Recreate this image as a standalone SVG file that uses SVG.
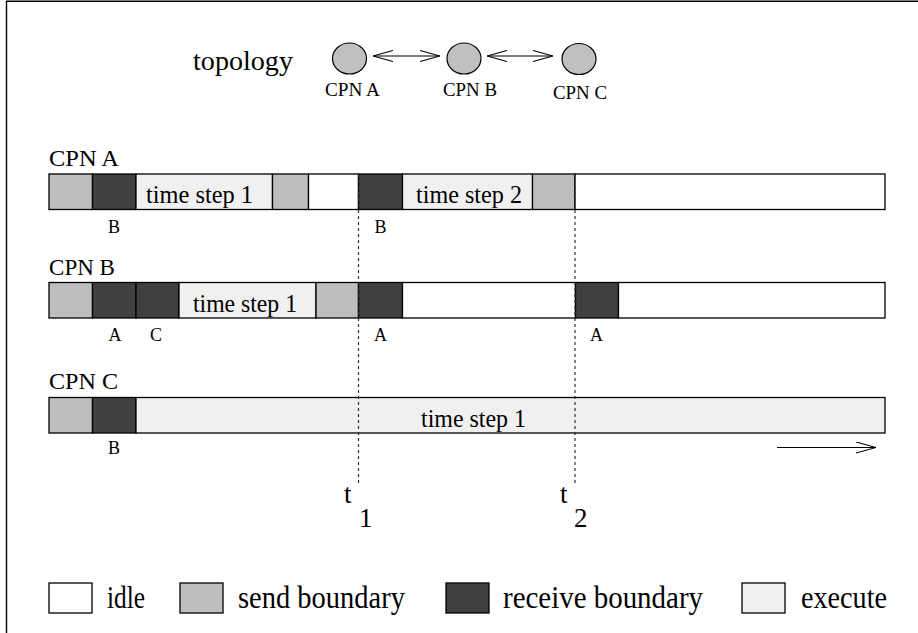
<svg xmlns="http://www.w3.org/2000/svg" width="918" height="633" viewBox="0 0 918 633">
  <style>
    text { font-family: "Liberation Serif", "Times New Roman", serif; fill: #000; }
    .cell { stroke: #000; stroke-width: 1.3; }
    .idle { fill: #ffffff; }
    .send { fill: #bebebe; }
    .recv { fill: #404040; }
    .exec { fill: #f0f0f0; }
    .node { fill: #c0c0c0; stroke: #000; stroke-width: 1.2; }
    .link { stroke: #000; stroke-width: 1.1; fill: none; }
    .tline { stroke: #333; stroke-width: 1.2; stroke-dasharray: 3 3; }
    .lbl { font-size: 19px; }
    .tag { font-size: 18px; }
    .row { font-size: 23px; }
    .step { font-size: 25px; }
    .leg { font-size: 31px; }
  </style>
  <defs>
    <marker id="open" viewBox="0 0 20 12" refX="20" refY="6" markerWidth="20" markerHeight="12" markerUnits="userSpaceOnUse" orient="auto-start-reverse">
      <path d="M0,0.5 L20,6 L0,11.5" fill="none" stroke="#000" stroke-width="1.1"/>
    </marker>
  </defs>

  <rect width="918" height="633" fill="#fff"/>
  <!-- frame edges -->
  <path d="M6.5,633 V1.2 H918" fill="none" stroke="#000" stroke-width="1.4"/>

  <!-- topology -->
  <text x="193" y="70" font-size="28" textLength="100" lengthAdjust="spacingAndGlyphs">topology</text>
  <g id="topo-a">
    <ellipse class="node" cx="349.5" cy="58.5" rx="17" ry="15.5"/>
    <text class="lbl" x="352.5" y="96" text-anchor="middle" textLength="55" lengthAdjust="spacingAndGlyphs">CPN A</text>
  </g>
  <g id="topo-b">
    <ellipse class="node" cx="464" cy="58.5" rx="17" ry="15.5"/>
    <text class="lbl" x="470" y="95.5" text-anchor="middle" textLength="54" lengthAdjust="spacingAndGlyphs">CPN B</text>
  </g>
  <g id="topo-c">
    <ellipse class="node" cx="579" cy="59" rx="17" ry="15.5"/>
    <text class="lbl" x="580" y="98.5" text-anchor="middle" textLength="54" lengthAdjust="spacingAndGlyphs">CPN C</text>
  </g>
  <g id="links">
    <line class="link" x1="373" y1="56" x2="440" y2="56" marker-start="url(#open)" marker-end="url(#open)"/>
    <line class="link" x1="487" y1="56" x2="553" y2="56" marker-start="url(#open)" marker-end="url(#open)"/>
  </g>

  <!-- CPN A timeline -->
  <g id="cpn-a">
    <text class="row" x="49" y="166" textLength="70" lengthAdjust="spacingAndGlyphs">CPN A</text>
    <rect class="cell send" x="49" y="174" width="43.5" height="35.5"/>
    <rect class="cell recv" x="92.5" y="174" width="43.5" height="35.5"/>
    <rect class="cell exec" x="136" y="174" width="136.5" height="35.5"/>
    <rect class="cell send" x="272.5" y="174" width="36" height="35.5"/>
    <rect class="cell idle" x="308.5" y="174" width="50" height="35.5"/>
    <rect class="cell recv" x="358.5" y="174" width="44" height="35.5"/>
    <rect class="cell exec" x="402.5" y="174" width="130" height="35.5"/>
    <rect class="cell send" x="532.5" y="174" width="42.5" height="35.5"/>
    <rect class="cell idle" x="575" y="174" width="310" height="35.5"/>
    <text class="step" x="146" y="203" textLength="107" lengthAdjust="spacingAndGlyphs">time step 1</text>
    <text class="step" x="416" y="203" textLength="106" lengthAdjust="spacingAndGlyphs">time step 2</text>
    <text class="tag" x="114" y="233" text-anchor="middle">B</text>
    <text class="tag" x="380.5" y="233" text-anchor="middle">B</text>
  </g>

  <!-- CPN B timeline -->
  <g id="cpn-b">
    <text class="row" x="49" y="275" textLength="66" lengthAdjust="spacingAndGlyphs">CPN B</text>
    <rect class="cell send" x="49" y="282.5" width="43.5" height="35.5"/>
    <rect class="cell recv" x="92.5" y="282.5" width="43.5" height="35.5"/>
    <rect class="cell recv" x="136" y="282.5" width="43" height="35.5"/>
    <rect class="cell exec" x="179" y="282.5" width="137" height="35.5"/>
    <rect class="cell send" x="316" y="282.5" width="42.5" height="35.5"/>
    <rect class="cell recv" x="358.5" y="282.5" width="44" height="35.5"/>
    <rect class="cell idle" x="402.5" y="282.5" width="173" height="35.5"/>
    <rect class="cell recv" x="575.5" y="282.5" width="43" height="35.5"/>
    <rect class="cell idle" x="618.5" y="282.5" width="266.5" height="35.5"/>
    <text class="step" x="193" y="312" textLength="104" lengthAdjust="spacingAndGlyphs">time step 1</text>
    <text class="tag" x="115" y="341" text-anchor="middle">A</text>
    <text class="tag" x="156" y="341" text-anchor="middle">C</text>
    <text class="tag" x="380.5" y="341" text-anchor="middle">A</text>
    <text class="tag" x="596.5" y="341" text-anchor="middle">A</text>
  </g>

  <!-- CPN C timeline -->
  <g id="cpn-c">
    <text class="row" x="49" y="389" textLength="69" lengthAdjust="spacingAndGlyphs">CPN C</text>
    <rect class="cell send" x="49" y="397.5" width="43.5" height="35.5"/>
    <rect class="cell recv" x="92.5" y="397.5" width="43.5" height="35.5"/>
    <rect class="cell exec" x="136" y="397.5" width="749" height="35.5"/>
    <text class="step" x="421" y="427" textLength="105" lengthAdjust="spacingAndGlyphs">time step 1</text>
    <text class="tag" x="114" y="454" text-anchor="middle">B</text>
  </g>

  <!-- time markers -->
  <g id="markers">
    <line class="tline" x1="358.5" y1="174" x2="358.5" y2="484"/>
    <line class="tline" x1="575" y1="174" x2="575" y2="484"/>
    <line class="link" x1="777" y1="447.5" x2="876" y2="447.5" marker-end="url(#open)"/>
    <text x="344" y="503" font-size="27">t</text>
    <text x="359" y="527" font-size="27">1</text>
    <text x="560" y="503" font-size="27">t</text>
    <text x="574" y="527" font-size="27">2</text>
  </g>

  <!-- legend -->
  <g id="legend">
    <rect class="cell idle" x="49" y="583" width="43" height="30"/>
    <text class="leg" x="107" y="608" textLength="38" lengthAdjust="spacingAndGlyphs">idle</text>
    <rect class="cell send" x="180" y="583" width="43" height="30"/>
    <text class="leg" x="238" y="608" textLength="167" lengthAdjust="spacingAndGlyphs">send boundary</text>
    <rect class="cell recv" x="446" y="583" width="43" height="30"/>
    <text class="leg" x="503" y="608" textLength="200" lengthAdjust="spacingAndGlyphs">receive boundary</text>
    <rect class="cell exec" x="742" y="583" width="43" height="30"/>
    <text class="leg" x="801" y="608" textLength="86" lengthAdjust="spacingAndGlyphs">execute</text>
  </g>
</svg>
